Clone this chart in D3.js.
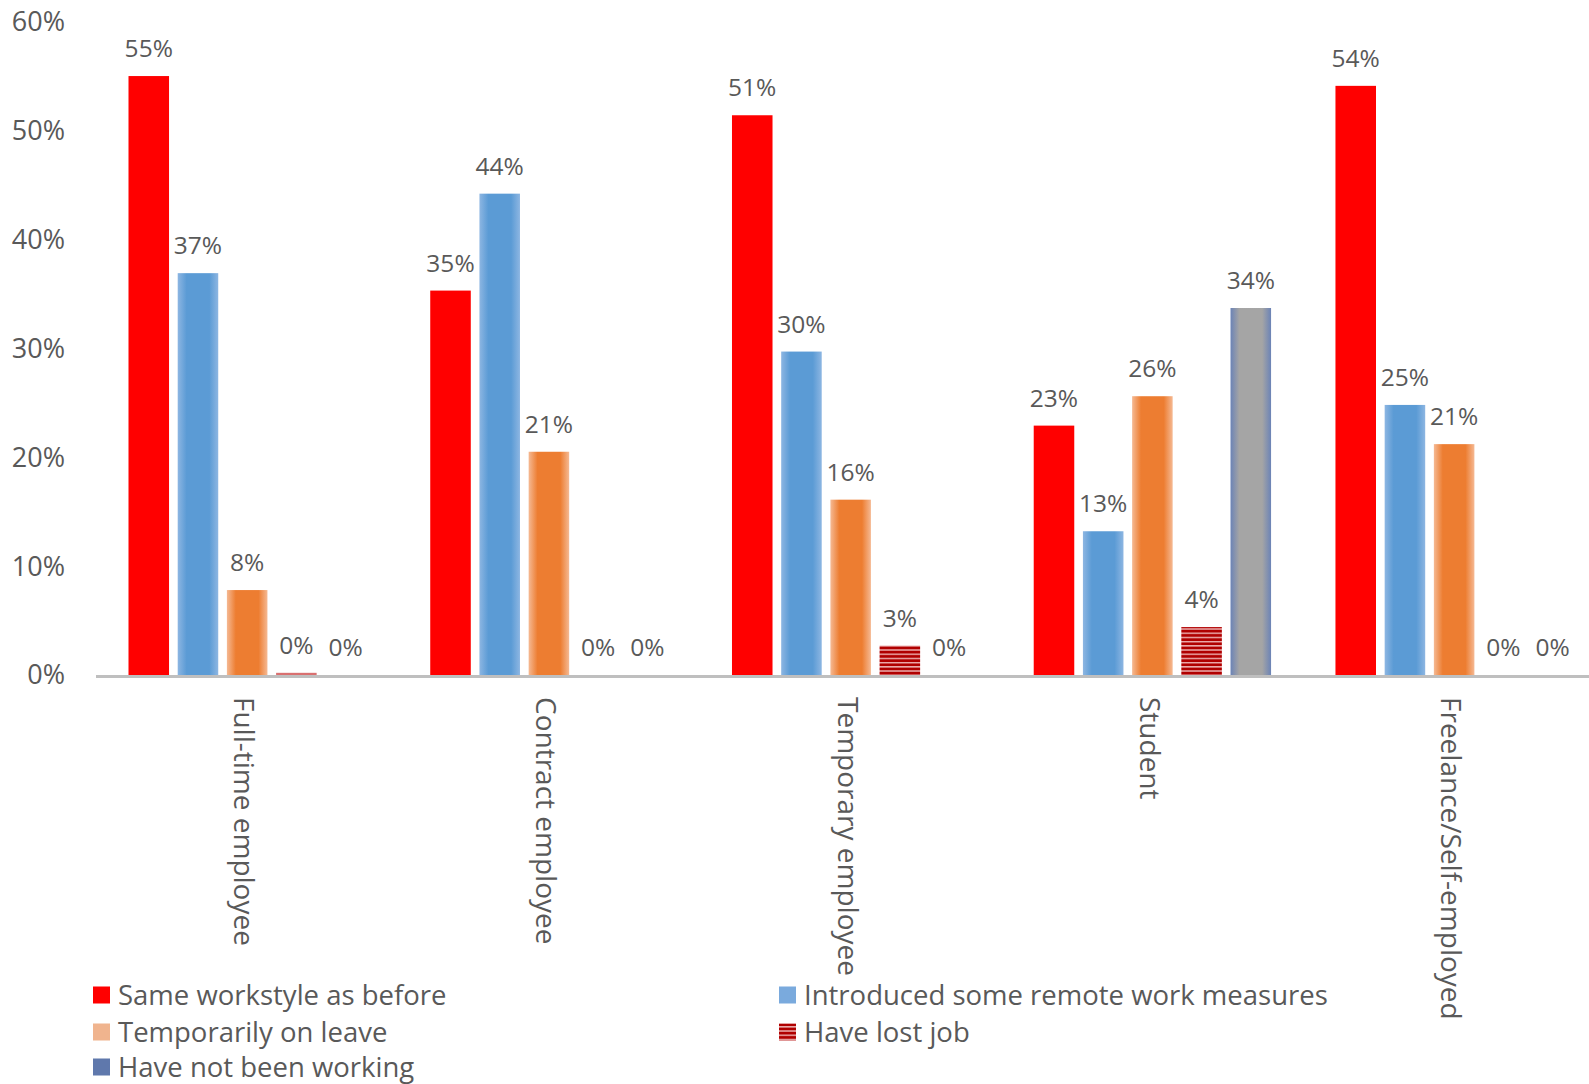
<!DOCTYPE html>
<html><head><meta charset="utf-8">
<script src="https://cdn.jsdelivr.net/npm/d3@7"></script>
<style>
html,body{margin:0;padding:0;background:#fff;}
svg text{font-family:"Open Sans",sans-serif;fill:#595959;}
</style></head>
<body>
<svg id="chart" width="1589" height="1084"></svg>
<script>
const categories = ["Full-time employee","Contract employee","Temporary employee","Student","Freelance/Self-employed"];
const seriesNames = ["Same workstyle as before","Introduced some remote work measures","Temporarily on leave","Have lost job","Have not been working"];
const sameWorkstyle = [55.0, 35.3, 51.4, 22.9, 54.1];
const remoteWork = [36.9, 44.2, 29.7, 13.2, 24.8];
const onLeave = [7.8, 20.5, 16.1, 25.6, 21.2];
const lostJob = [0.2, 0, 2.7, 4.4, 0];
const notWorking = [0, 0, 0, 33.7, 0];
const yTicks = [0,10,20,30,40,50,60];

const seriesValues = [sameWorkstyle, remoteWork, onLeave, lostJob, notWorking];

const svg = d3.select("#chart");
const defs = svg.append("defs");

function hGrad(id, edge, center){
  const g = defs.append("linearGradient").attr("id", id).attr("x1","0").attr("x2","1").attr("y1","0").attr("y2","0");
  g.append("stop").attr("offset","0%").attr("stop-color",edge);
  g.append("stop").attr("offset","22%").attr("stop-color",center);
  g.append("stop").attr("offset","78%").attr("stop-color",center);
  g.append("stop").attr("offset","100%").attr("stop-color",edge);
}
hGrad("gBlue","#8db6e2","#5b9bd5");
hGrad("gOrange","#f5b993","#ed7d31");
hGrad("gGrey","#6b83b6","#a5a5a5");
const pat = defs.append("pattern").attr("id","pStripe").attr("patternUnits","userSpaceOnUse").attr("width",8).attr("height",4.2);
pat.append("rect").attr("width",8).attr("height",4.2).attr("fill","#b00000");
pat.append("rect").attr("y",2.6).attr("width",8).attr("height",1.3).attr("fill","#f3c4c4");

const fills = ["#ff0000","url(#gBlue)","url(#gOrange)","url(#pStripe)","url(#gGrey)"];
const legendFills = ["#ff0000","#7aaadd","#f0b48e","url(#pStripe)","#5f78ac"];

const x0 = d3.scaleBand().domain(categories).range([96.3, 1605]).paddingInner(0).paddingOuter(0);
const groupW = 5*49.2;
const x1 = d3.scaleBand().domain(d3.range(5)).range([0, groupW]).paddingInner(0.176).paddingOuter(0.088);
const y = d3.scaleLinear().domain([0,60]).range([675, 21.6]);

// y tick labels
svg.append("g").selectAll("text").data(yTicks).enter().append("text")
  .attr("x", 65).attr("y", d => y(d)).attr("dy","0.35em")
  .attr("text-anchor","end").attr("font-size", 27)
  .text(d => d + "%");

// bars
const groups = svg.append("g").selectAll("g").data(categories).enter().append("g")
  .attr("transform", c => `translate(${x0(c) + (x0.bandwidth()-groupW)/2},0)`);

groups.each(function(c, ci){
  const g = d3.select(this);
  seriesValues.forEach((vals, si) => {
    const v = vals[ci];
    if (v > 0) {
      g.append("rect")
        .attr("x", x1(si)).attr("width", x1.bandwidth())
        .attr("y", y(v)).attr("height", y(0) - y(v))
        .attr("fill", si === 3 && v < 1 ? "#d97070" : fills[si]);
    }
    g.append("text")
      .attr("x", x1(si) + x1.bandwidth()/2)
      .attr("y", y(v) - 27.5).attr("dy","0.35em")
      .attr("text-anchor","middle").attr("font-size", 24.5)
      .text(Math.round(v) + "%");
  });
});

// axis line
svg.append("line").attr("x1", 96).attr("x2", 1589).attr("y1", y(0)+1.5).attr("y2", y(0)+1.5)
  .attr("stroke","#bfbfbf").attr("stroke-width",3);

// category labels rotated
svg.append("g").selectAll("text").data(categories).enter().append("text")
  .attr("transform", c => `translate(${x0(c) + x0.bandwidth()/2 - 3},${697}) rotate(90)`)
  .attr("dy","0.35em").attr("text-anchor","start").attr("font-size", 28)
  .text(c => c);

// legend
const legendPos = [[93,995],[779,995],[93,1032],[779,1032],[93,1067]];
const lg = svg.append("g").selectAll("g").data(seriesNames).enter().append("g")
  .attr("transform", (d,i) => `translate(${legendPos[i][0]},${legendPos[i][1]})`);
lg.append("rect").attr("x",0).attr("y",-8.5).attr("width",17).attr("height",17).attr("fill",(d,i)=>legendFills[i]);
lg.append("text").attr("x",25).attr("y",0).attr("dy","0.35em").attr("font-size",27.5).text(d=>d);
</script>
</body></html>
